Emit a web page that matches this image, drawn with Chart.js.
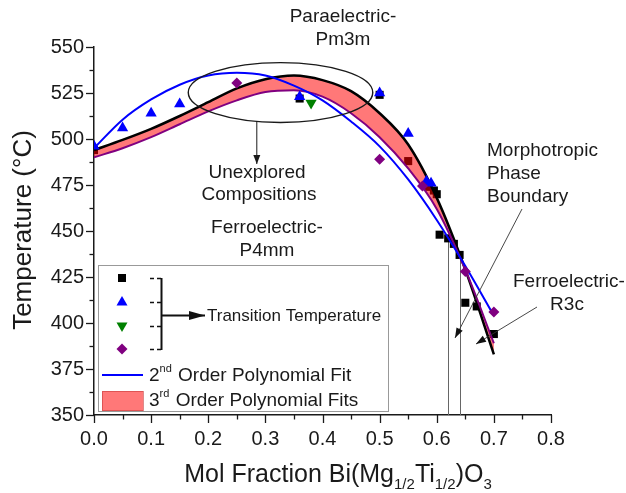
<!DOCTYPE html>
<html><head><meta charset="utf-8">
<script src="https://cdn.jsdelivr.net/npm/chart.js@4/dist/chart.umd.min.js"></script>
<style>html,body{margin:0;padding:0;background:#fff}#wrap{width:626px;height:493px;position:relative}</style>
</head><body><div id="wrap"><canvas id="c" width="626" height="493"></canvas></div>
<script>
// ---- data ----
const xTicks = [0.0, 0.1, 0.2, 0.3, 0.4, 0.5, 0.6, 0.7, 0.8];
const yTicks = [350, 375, 400, 425, 450, 475, 500, 525, 550];

const squareX = [0.00, 0.36, 0.50, 0.55, 0.585, 0.595, 0.600, 0.605, 0.620, 0.630, 0.640, 0.650, 0.670, 0.700];
const squareT = [494, 522, 524, 488, 474, 472, 470, 448, 446, 443, 437, 411, 409, 394];
const triUpX = [0.00, 0.05, 0.10, 0.15, 0.36, 0.50, 0.55, 0.582, 0.590];
const triUpT = [496, 506, 514, 519, 523, 525, 503, 477, 476];
const triDownX = [0.38];
const triDownT = [519.5];
const diamondX = [0.25, 0.50, 0.575, 0.65, 0.70];
const diamondT = [530.5, 489, 474.5, 428, 406];

const fitX = [0.00, 0.05, 0.10, 0.15, 0.20, 0.25, 0.30, 0.35, 0.40, 0.45, 0.50, 0.55, 0.60, 0.65, 0.70];
const fit2ndT = [495, 510.5, 521.5, 529.5, 534.5, 536, 534.5, 529, 521, 509.5, 496, 478, 456, 431, 404];
const fit3rdUpperT = [494, 499.5, 505.5, 512.5, 520, 527.5, 532.5, 534.5, 532, 526, 514, 497, 468, 429, 383];
const fit3rdLowerT = [490, 495, 501, 508, 515, 521, 525.5, 526.5, 523, 514, 501, 484, 462, 429, 389];

const boundaryX = [0.62, 0.64];

// ---- helpers ----
const pts = (xs, ys) => xs.map((x, i) => ({x: x, y: ys[i]}));
const FONT = '"Liberation Sans", Arial, sans-serif';
const INK = '#1a1a1a';

function arrowHead(ctx, x1, y1, x2, y2, len, half) {
  const a = Math.atan2(y2 - y1, x2 - x1);
  ctx.beginPath();
  ctx.moveTo(x2, y2);
  ctx.lineTo(x2 - len * Math.cos(a) + half * Math.sin(a), y2 - len * Math.sin(a) - half * Math.cos(a));
  ctx.lineTo(x2 - len * Math.cos(a) - half * Math.sin(a), y2 - len * Math.sin(a) + half * Math.cos(a));
  ctx.closePath();
  ctx.fill();
}
function arrow(ctx, x1, y1, x2, y2, len, half) {
  ctx.beginPath(); ctx.moveTo(x1, y1); ctx.lineTo(x2, y2); ctx.stroke();
  arrowHead(ctx, x1, y1, x2, y2, len, half);
}
function supText(ctx, x, y, base, sup, rest, size) {
  ctx.font = size + 'px ' + FONT;
  ctx.fillText(base, x, y);
  let w = ctx.measureText(base).width;
  ctx.font = Math.round(size * 0.6) + 'px ' + FONT;
  ctx.fillText(sup, x + w, y - size * 0.38);
  const w2 = ctx.measureText(sup).width;
  ctx.font = size + 'px ' + FONT;
  ctx.fillText(rest, x + w + w2 + 1, y);
}
function marker(ctx, kind, x, y, color) {
  ctx.fillStyle = color;
  ctx.beginPath();
  if (kind === 'square') { ctx.rect(x - 4, y - 4, 8, 8); }
  else if (kind === 'up') { ctx.moveTo(x, y - 6); ctx.lineTo(x + 5.5, y + 3.5); ctx.lineTo(x - 5.5, y + 3.5); ctx.closePath(); }
  else if (kind === 'down') { ctx.moveTo(x, y + 6); ctx.lineTo(x + 5.5, y - 3.5); ctx.lineTo(x - 5.5, y - 3.5); ctx.closePath(); }
  else if (kind === 'diamond') { ctx.moveTo(x, y - 5.5); ctx.lineTo(x + 5.5, y); ctx.lineTo(x, y + 5.5); ctx.lineTo(x - 5.5, y); ctx.closePath(); }
  ctx.fill();
}

const decoPlugin = {
  id: 'deco',
  beforeDatasetsDraw(chart) {
    const ctx = chart.ctx, xs = chart.scales.x, ys = chart.scales.y;
    ctx.save();
    ctx.strokeStyle = '#666'; ctx.lineWidth = 1;
    boundaryX.forEach(bx => {
      const i = squareX.indexOf(bx);
      const px = Math.round(xs.getPixelForValue(bx)) + 0.5;
      ctx.beginPath(); ctx.moveTo(px, ys.getPixelForValue(squareT[i])); ctx.lineTo(px, ys.bottom); ctx.stroke();
    });
    ctx.restore();
  },
  afterDraw(chart) {
    const ctx = chart.ctx, xs = chart.scales.x, ys = chart.scales.y, a = chart.chartArea;
    ctx.save();
    // axis ticks (major + minor), outward
    ctx.strokeStyle = INK; ctx.lineWidth = 1.3;
    for (let i = 0; i < yTicks.length; i++) {
      const vals = [yTicks[i]];
      if (i < yTicks.length - 1) vals.push((yTicks[i] + yTicks[i + 1]) / 2);
      vals.forEach((v, k) => {
        const y = Math.round(ys.getPixelForValue(v)) + 0.5;
        ctx.beginPath(); ctx.moveTo(a.left, y); ctx.lineTo(a.left - (k === 0 ? 8 : 4.5), y); ctx.stroke();
      });
    }
    for (let i = 0; i < xTicks.length; i++) {
      const vals = [xTicks[i]];
      if (i < xTicks.length - 1) vals.push((xTicks[i] + xTicks[i + 1]) / 2);
      vals.forEach((v, k) => {
        const x = Math.round(xs.getPixelForValue(v)) + 0.5;
        ctx.beginPath(); ctx.moveTo(x, a.bottom); ctx.lineTo(x, a.bottom + (k === 0 ? 8 : 4.5)); ctx.stroke();
      });
    }

    // axis titles
    ctx.fillStyle = INK; ctx.textBaseline = 'middle';
    ctx.save();
    ctx.translate(24, 230); ctx.rotate(-Math.PI / 2);
    ctx.font = '26px ' + FONT; ctx.textAlign = 'center';
    ctx.fillText('Temperature (\u00B0C)', 0, 0);
    ctx.restore();

    // x title with subscripts
    const parts = [['Mol Fraction Bi(Mg', 0], ['1/2', 1], ['Ti', 0], ['1/2', 1], [')O', 0], ['3', 1]];
    const big = 25, small = 15;
    let total = 0;
    parts.forEach(p => { ctx.font = (p[1] ? small : big) + 'px ' + FONT; total += ctx.measureText(p[0]).width; });
    let cx = 338 - total / 2;
    ctx.textAlign = 'left'; ctx.textBaseline = 'alphabetic';
    parts.forEach(p => {
      ctx.font = (p[1] ? small : big) + 'px ' + FONT;
      ctx.fillText(p[0], cx, p[1] ? 489 : 482);
      cx += ctx.measureText(p[0]).width;
    });

    // ellipse around unexplored compositions
    const ex1 = xs.getPixelForValue(0.165), ex2 = xs.getPixelForValue(0.488);
    const ey1 = ys.getPixelForValue(541.5), ey2 = ys.getPixelForValue(509);
    const ecx = (ex1 + ex2) / 2, ecy = (ey1 + ey2) / 2, erx = (ex2 - ex1) / 2, ery = (ey2 - ey1) / 2;
    ctx.strokeStyle = INK; ctx.lineWidth = 1.4;
    ctx.beginPath(); ctx.ellipse(ecx, ecy, erx, ery, 0, 0, Math.PI * 2); ctx.stroke();
    const axp = xs.getPixelForValue(0.285);
    const dx = (axp - ecx) / erx;
    const ay0 = ecy + ery * Math.sqrt(1 - dx * dx);
    ctx.lineWidth = 1; ctx.fillStyle = INK;
    arrow(ctx, axp, ay0, axp, 164, 9, 3.5);

    // text annotations
    ctx.font = '19px ' + FONT; ctx.textAlign = 'center'; ctx.textBaseline = 'middle';
    ctx.fillText('Paraelectric-', 343, 17);
    ctx.fillText('Pm3m', 343, 40);
    ctx.fillText('Unexplored', 257, 173);
    ctx.fillText('Compositions', 259, 195);
    ctx.fillText('Ferroelectric-', 267, 228);
    ctx.fillText('P4mm', 267, 251);
    ctx.textAlign = 'left';
    ctx.fillText('Morphotropic', 487, 151);
    ctx.fillText('Phase', 487, 174);
    ctx.fillText('Boundary', 487, 197);
    ctx.fillText('Ferroelectric-', 513, 282);
    ctx.textAlign = 'center';
    ctx.fillText('R3c', 567, 305);

    ctx.strokeStyle = '#333'; ctx.lineWidth = 0.9; ctx.fillStyle = '#111';
    arrow(ctx, 522, 209, 455, 338, 10, 3.5);
    arrow(ctx, 537, 307, 476, 344, 10, 3.5);

    // legend box
    ctx.strokeStyle = '#999'; ctx.lineWidth = 1;
    ctx.fillStyle = '#fff';
    ctx.fillRect(98.5, 265.5, 290, 146);
    ctx.strokeRect(98.5, 265.5, 290, 146);
    const rows = [278, 302, 326, 349];
    marker(ctx, 'square', 122, rows[0], '#000');
    marker(ctx, 'up', 122, rows[1], '#0000ff');
    marker(ctx, 'down', 122, rows[2], '#008000');
    marker(ctx, 'diamond', 122, rows[3], '#800080');
    ctx.strokeStyle = '#111'; ctx.lineWidth = 1.5;
    ctx.setLineDash([4, 3]);
    rows.forEach(r => { ctx.beginPath(); ctx.moveTo(150, r + 0.5); ctx.lineTo(162, r + 0.5); ctx.stroke(); });
    ctx.setLineDash([]);
    ctx.lineWidth = 2;
    ctx.beginPath(); ctx.moveTo(161.5, rows[0]); ctx.lineTo(161.5, rows[3] + 1); ctx.stroke();
    ctx.fillStyle = '#111';
    arrow(ctx, 161.5, 315.5, 205, 315.5, 16, 4.5);
    ctx.fillStyle = INK; ctx.textAlign = 'left'; ctx.textBaseline = 'middle';
    ctx.font = '17px ' + FONT;
    ctx.fillText('Transition Temperature', 207, 316);
    ctx.strokeStyle = '#0000ff'; ctx.lineWidth = 2;
    ctx.beginPath(); ctx.moveTo(102, 375); ctx.lineTo(143, 375); ctx.stroke();
    ctx.fillStyle = INK;
    supText(ctx, 149, 376, '2', 'nd', ' Order Polynomial Fit', 19);
    ctx.fillStyle = 'rgba(255,0,0,0.53)';
    ctx.fillRect(102, 391, 41, 20);
    ctx.strokeStyle = 'rgba(200,60,60,0.6)'; ctx.lineWidth = 1;
    ctx.strokeRect(102.5, 391.5, 41, 19);
    ctx.fillStyle = INK;
    supText(ctx, 149, 401, '3', 'rd', ' Order Polynomial Fits', 19);
    ctx.restore();
  }
};

const ds = [
  { type: 'line', label: 'fit3Upper', data: pts(fitX, fit3rdUpperT), borderColor: '#000', borderWidth: 2.5,
    pointRadius: 0, cubicInterpolationMode: 'monotone', fill: '+1', backgroundColor: 'rgba(255,0,0,0.53)', order: 6 },
  { type: 'line', label: 'fit3Lower', data: pts(fitX, fit3rdLowerT), borderColor: '#800080', borderWidth: 2,
    pointRadius: 0, cubicInterpolationMode: 'monotone', fill: false, order: 5 },
  { type: 'line', label: 'fit2', data: pts(fitX, fit2ndT), borderColor: '#0000ff', borderWidth: 2,
    pointRadius: 0, cubicInterpolationMode: 'monotone', fill: false, order: 4 },
  { type: 'scatter', label: 'squares', data: pts(squareX, squareT), pointStyle: 'rect', pointRadius: 5.7,
    backgroundColor: '#000', borderWidth: 0, order: 10 },
  { type: 'scatter', label: 'triUp', data: pts(triUpX, triUpT), pointStyle: 'triangle', pointRadius: 6.5,
    backgroundColor: '#0000ff', borderWidth: 0, order: 3 },
  { type: 'scatter', label: 'triDown', data: pts(triDownX, triDownT), pointStyle: 'triangle', rotation: 180, pointRadius: 6.5,
    backgroundColor: '#008000', borderWidth: 0, order: 2 },
  { type: 'scatter', label: 'diamonds', data: pts(diamondX, diamondT), pointStyle: 'rectRot', pointRadius: 5.5,
    backgroundColor: '#800080', borderWidth: 0, order: 1 }
];

new Chart(document.getElementById('c'), {
  type: 'scatter',
  data: { datasets: ds },
  options: {
    responsive: false, animation: false, devicePixelRatio: 1,
    layout: { padding: { top: 47, right: 75, left: 0, bottom: 0 } },
    plugins: { legend: { display: false }, tooltip: { enabled: false } },
    scales: {
      x: {
        type: 'linear', min: 0, max: 0.8,
        afterFit(s) { s.height = 78; },
        afterBuildTicks(s) { s.ticks = xTicks.map(v => ({ value: v })); },
        grid: { display: false, drawTicks: false },
        border: { display: true, color: INK, width: 1.5 },
        ticks: { padding: 12, color: INK, font: { family: FONT, size: 20 }, maxRotation: 0, autoSkip: false,
          callback: v => Number(v).toFixed(1) }
      },
      y: {
        type: 'linear', min: 350, max: 550,
        afterFit(s) { s.width = 94; },
        afterBuildTicks(s) { s.ticks = yTicks.map(v => ({ value: v })); },
        grid: { display: false, drawTicks: false },
        border: { display: true, color: INK, width: 1.5 },
        ticks: { padding: 10, color: INK, font: { family: FONT, size: 20 }, autoSkip: false,
          callback: v => String(v) }
      }
    }
  },
  plugins: [decoPlugin]
});
</script>
</body></html>
